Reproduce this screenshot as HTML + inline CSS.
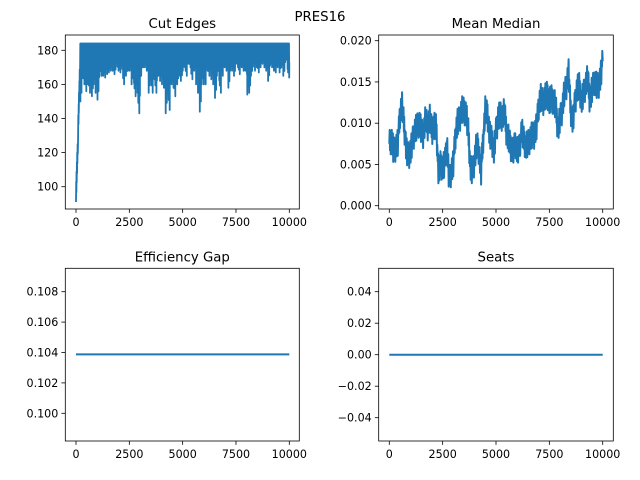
<!DOCTYPE html>
<html><head><meta charset="utf-8"><style>
html,body{margin:0;padding:0;background:#fff;}
svg{display:block;font-family:"DejaVu Sans","Liberation Sans",sans-serif;}
</style></head><body>
<svg id="fig" width="640" height="480" viewBox="0 0 640 480">
<text x="320" y="21" text-anchor="middle" font-size="13.3">PRES16</text>
</svg>
<script>
const steps = 10000;
const cutBins = [91,130,150,160,156,160,155,153,160,155,
151,165,165,164,166,167,168,168,166,168,
167,169,160,165,168,168,160,153,155,143,
165,170,170,168,155,155,163,155,165,162,
160,158,143,145,160,158,153,160,165,162,
168,165,172,170,163,168,160,155,144,160,
160,168,165,163,160,152,165,155,165,170,
168,158,168,168,165,170,166,170,168,168,
154,155,165,168,170,167,170,172,170,168,
162,170,168,167,170,167,170,165,173,164];
const cutMax = [125,170,184,184,184,184,184,184,184,184];
const cutTop = 184;
const mmCenter = [0.0075,0.008,0.0065,0.007,0.0075,0.011,0.012,0.0095,0.0065,0.006,
0.0065,0.008,0.009,0.0095,0.010,0.009,0.0085,0.0105,0.0095,0.0105,
0.009,0.0095,0.0095,0.004,0.005,0.0045,0.005,0.0075,0.003,0.004,
0.005,0.0085,0.010,0.0105,0.0115,0.0115,0.011,0.009,0.0045,0.004,
0.0055,0.0075,0.0065,0.004,0.008,0.0115,0.011,0.0085,0.008,0.0065,
0.009,0.0105,0.011,0.0105,0.0115,0.0085,0.008,0.007,0.0065,0.0075,
0.0065,0.007,0.009,0.008,0.007,0.0075,0.008,0.0085,0.0085,0.0095,
0.012,0.013,0.0125,0.013,0.0135,0.0125,0.013,0.0125,0.012,0.009,
0.0105,0.0115,0.0135,0.0145,0.016,0.0115,0.010,0.0125,0.014,0.0145,
0.0125,0.0135,0.0145,0.0155,0.0125,0.014,0.015,0.0145,0.0145,0.0155,0.0175];
const mmSpread = 0.0016;
const effGap = 0.10388;
const seats = 0;
const xTicks = [0,2500,5000,7500,10000];
const yTicks1 = [100,120,140,160,180];
const yTicks2 = [0.000,0.005,0.010,0.015,0.020];
const yTicks3 = [0.100,0.102,0.104,0.106,0.108];
const yTicks4 = [-0.04,-0.02,0.00,0.02,0.04];

const NS="http://www.w3.org/2000/svg";
const fig=document.getElementById('fig');
function mk(tag,attrs,parent){const e=document.createElementNS(NS,tag);for(const k in attrs)e.setAttribute(k,attrs[k]);(parent||fig).appendChild(e);return e;}
function lin(d0,d1,p0,p1){return v=>p0+(v-d0)*(p1-p0)/(d1-d0);}
const C="#1f77b4";

function axes(name,box,title,sx,sy,yt,fmt){
  const g=mk('g',{});
  
  
  const t=mk('text',{x:(box.l+box.r)/2,y:box.t-7,'text-anchor':'middle','font-size':'13.3'},g);
  t.textContent=title;
  
  
  xTicks.forEach(v=>{
    const x=sx(v);
    mk('line',{x1:x,x2:x,y1:box.b,y2:box.b+3.9,stroke:'#000','stroke-width':0.8},g);
    const tx=mk('text',{x:x,y:box.b+17,'text-anchor':'middle','font-size':'11.1'},g);
    tx.textContent=v;
    
    
  });
  yt.forEach(v=>{
    const y=sy(v);
    mk('line',{x1:box.l-3.9,x2:box.l,y1:y,y2:y,stroke:'#000','stroke-width':0.8},g);
    const ty=mk('text',{x:box.l-7,y:y+4,'text-anchor':'end','font-size':'11.1'},g);
    ty.textContent=fmt(v);
    
    
  });
  return g;
}
function frame(g,box){mk('rect',{x:box.l,y:box.t,width:box.r-box.l,height:box.b-box.t,fill:'none',stroke:'#000','stroke-width':0.8},g);}

// Axes 1: Cut Edges
const b1={l:65.3,r:299.3,t:35,b:209};
const sx1=lin(0,10000,76,289.3), sy1=lin(100,180,186.7,50.3);
const g1=axes('cut-edges-chart',b1,'Cut Edges',sx1,sy1,yTicks1,v=>v);
{
  let pts=[];
  const n=cutBins.length, w=steps/n;
  const dep=[0.35,0.6,1,0.5,0.75,0.4,0.85,0.55];
  for(let i=0;i<n;i++){
    const hi = i<cutMax.length?cutMax[i]:cutTop;
    const lo = cutBins[i];
    if(i<2){
      const k=6;
      for(let j=0;j<k;j++){
        const f=j/k, base=lo+(hi-lo)*f;
        pts.push([i*w+f*w,base]);pts.push([i*w+(f+0.5/k)*w,Math.min(hi,base+12)]);
      }
    } else {
      const k=8;
      for(let j=0;j<k;j++){
        const s=i*w+j*w/k;
        const d=dep[(i+j)%8];
        const low = hi-(hi-lo)*d;
        pts.push([s,hi]);pts.push([s+w/(2*k),low]);
      }
    }
  }
  pts.push([steps,173]);
  const p=mk('polyline',{points:pts.map(q=>sx1(q[0]).toFixed(1)+','+sy1(q[1]).toFixed(1)).join(' '),fill:'none',stroke:C,'stroke-width':1.8,'stroke-linejoin':'round'},g1);
  
  
}
frame(g1,b1);

// Axes 2: Mean Median
const b2={l:378.7,r:613.3,t:35,b:209};
const sx2=lin(0,10000,389.3,602.7), sy2=lin(0,0.02,205.7,40.7);
const g2=axes('mean-median-chart',b2,'Mean Median',sx2,sy2,yTicks2,v=>v.toFixed(3));
{
  let pts=[];
  const n=mmCenter.length-1, w=steps/n;
  const jit=[0,1,-0.6,0.8,-1,0.4,-0.3,0.9,-0.8,0.2,1.1,-0.9,0.5];
  for(let i=0;i<n;i++){
    for(let j=0;j<6;j++){
      const f=j/6;
      const c=mmCenter[i]+(mmCenter[i+1]-mmCenter[i])*f;
      pts.push([i*w+f*w,c+jit[(i*6+j)%13]*mmSpread]);
    }
  }
  pts.push([steps,mmCenter[n]]);
  const p=mk('polyline',{points:pts.map(q=>sx2(q[0]).toFixed(1)+','+sy2(q[1]).toFixed(1)).join(' '),fill:'none',stroke:C,'stroke-width':2,'stroke-linejoin':'round'},g2);
  
  
}
frame(g2,b2);

// Axes 3: Efficiency Gap
const b3={l:65.3,r:299.3,t:268.3,b:441};
const sx3=lin(0,10000,76,289.3), sy3=lin(0.100,0.108,413.3,291.7);
const g3=axes('efficiency-gap-chart',b3,'Efficiency Gap',sx3,sy3,yTicks3,v=>v.toFixed(3));
{
  const p=mk('line',{x1:sx3(0),x2:sx3(steps),y1:sy3(effGap),y2:sy3(effGap),stroke:C,'stroke-width':2},g3);
  
  
}
frame(g3,b3);

// Axes 4: Seats
const b4={l:378.7,r:613.3,t:268.3,b:441};
const sx4=lin(0,10000,389.3,602.7), sy4=lin(-0.04,0.04,417.7,291.7);
const g4=axes('seats-chart',b4,'Seats',sx4,sy4,yTicks4,v=>(v<0?'\u2212':'')+Math.abs(v).toFixed(2));
{
  const p=mk('line',{x1:sx4(0),x2:sx4(steps),y1:sy4(seats),y2:sy4(seats),stroke:C,'stroke-width':2},g4);
  
  
}
frame(g4,b4);
</script>
</body></html>
